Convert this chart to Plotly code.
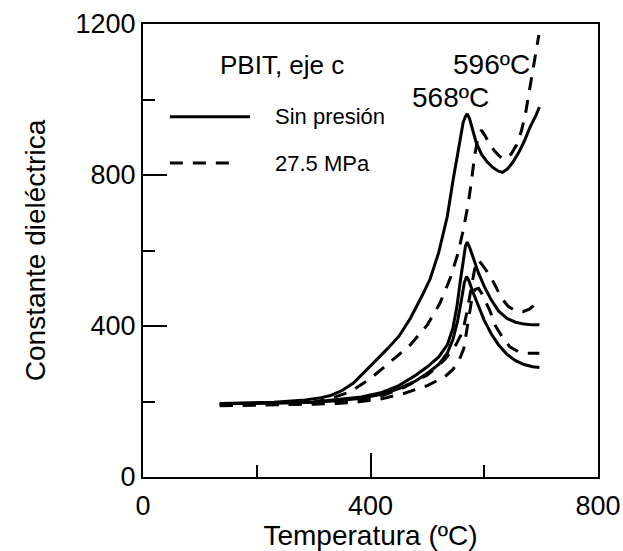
import plotly.graph_objects as go

# Temperature (ºC) / dielectric constant, PBIT c-axis
# Solid: without pressure; dashed: 27.5 MPa (three frequencies each)
sin_presion_1_t = [135, 180, 230, 280, 310, 330, 350, 370, 390, 410, 430, 450, 470, 490, 505, 520, 535, 545,
                   552, 558, 563, 567, 570, 574, 580, 586, 595, 605, 615, 625, 632, 640, 650, 660, 670, 680, 690, 697]
sin_presion_1_e = [195, 196, 198, 203, 209, 216, 229, 249, 279, 311, 340, 373, 420, 478, 525, 595, 690, 785,
                   850, 900, 940, 955, 962, 950, 920, 885, 855, 835, 820, 810, 807, 815, 833, 858, 888, 925, 955, 980]

sin_presion_2_t = [135, 200, 260, 300, 340, 380, 420, 450, 480, 500, 520, 535, 545, 552, 558, 563, 567, 570,
                   575, 582, 590, 600, 612, 625, 640, 655, 670, 685, 697]
sin_presion_2_e = [194, 195, 197, 199, 204, 211, 224, 242, 270, 292, 318, 350, 395, 452, 520, 580, 612, 622,
                   605, 575, 540, 505, 470, 440, 420, 410, 405, 403, 403]

sin_presion_3_t = [135, 200, 260, 300, 340, 380, 420, 450, 480, 500, 520, 535, 545, 553, 560, 565, 569, 573,
                   580, 590, 600, 612, 625, 640, 655, 670, 685, 697]
sin_presion_3_e = [194, 195, 196, 198, 202, 208, 219, 234, 255, 275, 298, 328, 365, 412, 470, 515, 531, 520,
                   490, 450, 415, 380, 350, 325, 308, 298, 292, 290]

mpa_1_t = [135, 200, 260, 300, 330, 365, 400, 435, 470, 500, 522, 540, 554, 563, 572, 578, 583, 589, 595,
           601, 610, 619, 628, 637, 647, 657, 665, 672, 680, 687, 696]
mpa_1_e = [190, 191, 193, 198, 208, 226, 261, 305, 350, 403, 460, 526, 593, 654, 725, 790, 850, 900, 919,
           905, 880, 862, 848, 842, 855, 880, 915, 958, 1030, 1095, 1171]

mpa_2_t = [135, 200, 260, 300, 340, 380, 420, 460, 500, 530, 550, 562, 570, 577, 583, 589, 595, 602, 610,
           620, 630, 642, 655, 668, 680, 690, 698]
mpa_2_e = [190, 191, 193, 195, 198, 203, 215, 238, 270, 310, 350, 385, 440, 500, 550, 575, 565, 550, 535,
           505, 475, 452, 440, 438, 445, 458, 469]

mpa_3_t = [135, 200, 260, 300, 340, 380, 420, 460, 500, 530, 545, 556, 564, 572, 578, 584, 590, 596, 603,
           610, 620, 632, 645, 660, 675, 688, 697]
mpa_3_e = [189, 190, 191, 193, 195, 199, 207, 222, 242, 265, 285, 310, 340, 420, 470, 497, 500, 485, 462,
           440, 400, 370, 345, 332, 328, 327, 328]

x_ticks = [0, 400, 800]
y_ticks = [0, 400, 800, 1200]

FONT = "Liberation Sans, Arial, sans-serif"
LW = 3
DASH = "13px,10px"

fig = go.Figure()
solid = [(sin_presion_1_t, sin_presion_1_e), (sin_presion_2_t, sin_presion_2_e), (sin_presion_3_t, sin_presion_3_e)]
dashed = [(mpa_1_t, mpa_1_e), (mpa_2_t, mpa_2_e), (mpa_3_t, mpa_3_e)]
for t, e in solid:
    fig.add_trace(go.Scatter(x=t, y=e, mode="lines", line=dict(color="black", width=LW),
                             showlegend=False, hoverinfo="skip"))
for t, e in dashed:
    fig.add_trace(go.Scatter(x=t, y=e, mode="lines", line=dict(color="black", width=LW, dash=DASH),
                             showlegend=False, hoverinfo="skip"))

# hand-drawn key inside the axes
fig.add_shape(type="line", xref="paper", yref="paper", x0=0.059, x1=0.235, y0=0.795, y1=0.795,
              line=dict(color="black", width=LW))
fig.add_shape(type="line", xref="paper", yref="paper", x0=0.059, x1=0.198, y0=0.693, y1=0.693,
              line=dict(color="black", width=LW, dash=DASH))

ann = [
    dict(text="PBIT, eje c", x=0.165, y=0.909, size=26),
    dict(text="Sin presión", x=0.286, y=0.795, size=22),
    dict(text="27.5 MPa", x=0.286, y=0.693, size=22),
]
for a in ann:
    fig.add_annotation(text=a["text"], xref="paper", yref="paper", x=a["x"], y=a["y"],
                       xanchor="left", yanchor="middle", showarrow=False,
                       font=dict(family=FONT, size=a["size"], color="black"))

fig.add_annotation(text="568ºC", x=541, y=1004, xref="x", yref="y", showarrow=False,
                   font=dict(family=FONT, size=28, color="black"))
fig.add_annotation(text="596ºC", x=612, y=1092, xref="x", yref="y", showarrow=False,
                   font=dict(family=FONT, size=28, color="black"))

axis_common = dict(
    showgrid=False, zeroline=False, showline=True, linecolor="black", linewidth=2,
    mirror=True, ticks="inside", ticklen=24, tickwidth=2, tickcolor="black",
    tickfont=dict(family=FONT, size=27, color="black"), automargin=False,
)
fig.update_xaxes(range=[0, 800], tickvals=x_ticks, ticktext=[str(v) for v in x_ticks],
                 ticklabelstandoff=4,
                 minor=dict(ticks="inside", dtick=200, tick0=0, ticklen=12, tickwidth=2, tickcolor="black"),
                 title=dict(text="Temperatura (ºC)", font=dict(family=FONT, size=28, color="black"), standoff=4),
                 **axis_common)
fig.update_yaxes(range=[0, 1200], tickvals=y_ticks, ticktext=[str(v) for v in y_ticks],
                 minor=dict(ticks="inside", dtick=200, tick0=0, ticklen=12, tickwidth=2, tickcolor="black"),
                 title=dict(text="Constante dieléctrica", font=dict(family=FONT, size=28, color="black"), standoff=22),
                 **axis_common)

fig.update_layout(
    width=623, height=551,
    margin=dict(l=143, r=25, t=24, b=74),
    plot_bgcolor="white", paper_bgcolor="white",
    font=dict(family=FONT, color="black"),
    showlegend=False,
)

fig.write_html("out.html")
